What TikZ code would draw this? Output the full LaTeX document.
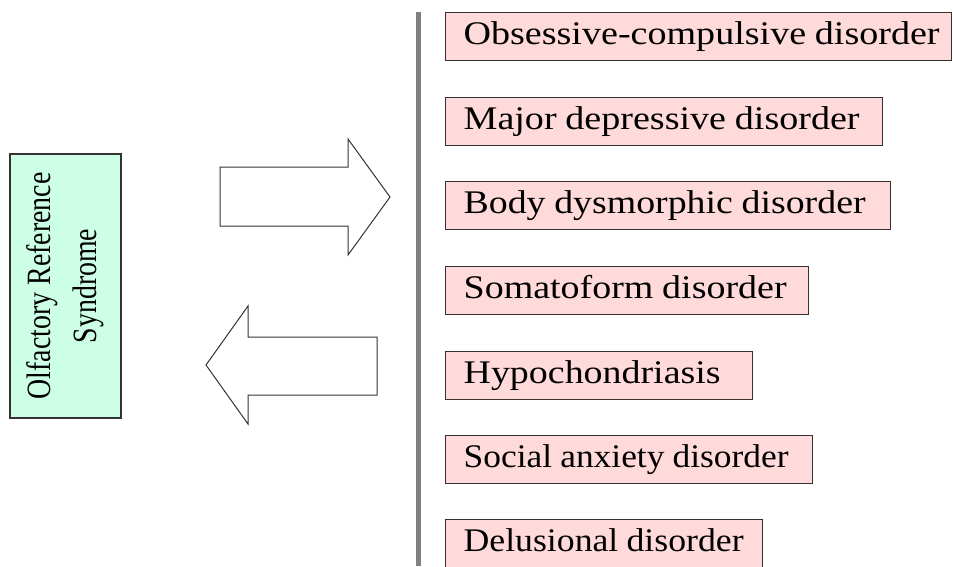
\documentclass[tikz,border=0pt]{standalone}
\usepackage{fontspec}
\setmainfont{Liberation Serif}
\definecolor{pinkfill}{RGB}{255,218,218}
\definecolor{mintfill}{RGB}{204,255,229}
\definecolor{edgecol}{RGB}{55,50,50}
\definecolor{barcol}{RGB}{128,128,128}
\tikzset{
  pinkbox/.style={draw=edgecol, line width=1.3pt, fill=pinkfill, anchor=north west,
    minimum height=48pt, inner xsep=0pt, inner ysep=0pt, align=left,
    text height=23pt, text depth=7pt,
    font=\fontsize{33}{33}\selectfont},
  mintbox/.style={draw=edgecol, line width=1.3pt, fill=mintfill, rotate=90,
    minimum width=264pt, minimum height=111pt, inner sep=0pt, align=center,
    font=\fontsize{34}{46}\selectfont},
  bigarrow/.style={draw=edgecol, line width=1pt, fill=white, line join=miter}
}
\newcommand{\lbl}[2]{\hspace*{18pt}\resizebox{#1pt}{\height}{\spaceskip=0.23em\relax #2}}
\newcommand{\narrow}[1]{\scalebox{0.82}[1]{#1}}
\begin{document}
\begin{tikzpicture}[x=1pt,y=-1pt]
\useasboundingbox[fill=white] (0,0) rectangle (953,566);
% left box
\node[mintbox] (ors) at (65.5,286) {\narrow{Olfactory Reference}\\\narrow{Syndrome}};
% arrows
\draw[bigarrow] (220,167) -- (348,167) -- (348,139) -- (390,197) -- (348,255) -- (348,226) -- (220,226) -- cycle;
\draw[bigarrow] (377,337) -- (248,337) -- (248,306) -- (206,365) -- (248,424) -- (248,395) -- (377,395) -- cycle;
% vertical bar
\coordinate (bartop) at (418,12);
\coordinate (barbot) at (418,566);
\draw[barcol, line width=5pt] (bartop) -- (barbot);
% disorder boxes
\node[pinkbox, minimum width=506pt, text width=506pt] (ocd) at (445,12) {\lbl{476}{Obsessive-compulsive disorder}};
\node[pinkbox, minimum width=437pt, text width=437pt] (mdd) at (445,97) {\lbl{396}{Major depressive disorder}};
\node[pinkbox, minimum width=445pt, text width=445pt] (bdd) at (445,181) {\lbl{402}{Body dysmorphic disorder}};
\node[pinkbox, minimum width=363pt, text width=363pt] (som) at (445,266) {\lbl{323}{Somatoform disorder}};
\node[pinkbox, minimum width=307pt, text width=307pt] (hyp) at (445,351) {\lbl{257}{Hypochondriasis}};
\node[pinkbox, minimum width=367pt, text width=367pt] (sad) at (445,435) {\lbl{325}{Social anxiety disorder}};
\node[pinkbox, minimum width=317pt, text width=317pt] (del) at (445,519) {\lbl{280}{Delusional disorder}};
\end{tikzpicture}
\end{document}
